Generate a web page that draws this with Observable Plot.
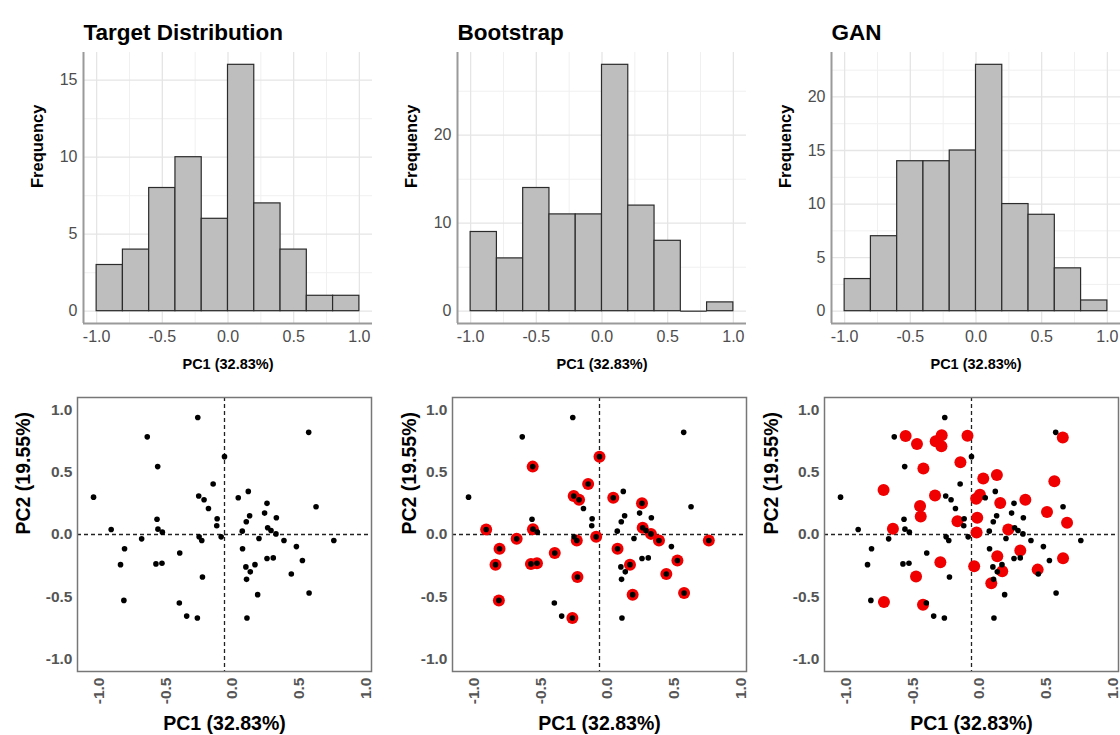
<!DOCTYPE html>
<html>
<head>
<meta charset="utf-8">
<script src="https://cdn.jsdelivr.net/npm/d3@7"></script>
<script src="https://cdn.jsdelivr.net/npm/@observablehq/plot@0.6"></script>
<style>
  body { margin: 0; background: #fff; }
  #wrap { position: relative; width: 1120px; height: 735px; overflow: hidden; background: #fff; }
  #wrap > svg { position: absolute; }
</style>
</head>
<body>
<div id="wrap"></div>
<script>
// ---------- data ----------
const panelTitles = ["Target Distribution", "Bootstrap", "GAN"];
const binEdges = [-1.0, -0.8, -0.6, -0.4, -0.2, 0.0, 0.2, 0.4, 0.6, 0.8, 1.0];
const targetCounts    = [3, 4, 8, 10, 6, 16, 7, 4, 1, 1];
const bootstrapCounts = [9, 6, 14, 11, 11, 28, 12, 8, 0, 1];
const ganCounts       = [3, 7, 14, 14, 15, 23, 10, 9, 4, 1];

const histXTicks = [-1, -0.5, 0, 0.5, 1];
const histXMinorTicks = [-0.75, -0.25, 0.25, 0.75];
const targetYTicks = [0, 5, 10, 15];
const targetYMinor = [2.5, 7.5, 12.5];
const bootstrapYTicks = [0, 10, 20];
const bootstrapYMinor = [5, 15, 25];
const ganYTicks = [0, 5, 10, 15, 20];
const ganYMinor = [2.5, 7.5, 12.5, 17.5, 22.5];

const scatterTicks = [-1, -0.5, 0, 0.5, 1];
const xLabel = "PC1 (32.83%)";
const yLabelScatter = "PC2 (19.55%)";
const yLabelHist = "Frequency";

// target (black) points
const targetPC1 = [-0.20, -0.578, 0.0, -0.50, -0.085, -0.98, -0.193, -0.153, -0.12, -0.055,
  -0.505, -0.058, -0.848, -0.498, -0.465, -0.62, -0.19, -0.17, -0.025, -0.748,
  -0.335, -0.778, -0.513, -0.468, -0.165, -0.753, -0.338, -0.283, -0.203,
  0.63, 0.178, 0.103, 0.318, 0.685, 0.30, 0.188, 0.388, 0.163, 0.323,
  0.133, 0.348, 0.385, 0.258, 0.445, 0.818, 0.135, 0.538, 0.318, 0.365,
  0.583, 0.16, 0.228, 0.193, 0.165, 0.50, 0.248, 0.633, 0.168];
const targetPC2 = [0.94, 0.784, 0.625, 0.545, 0.405, 0.30, 0.309, 0.279, 0.209, 0.126,
  0.123, 0.07, 0.04, 0.043, 0.019, -0.035, -0.019, -0.048, -0.019, -0.115,
  -0.148, -0.242, -0.236, -0.231, -0.341, -0.529, -0.55, -0.655, -0.671,
  0.82, 0.346, 0.295, 0.25, 0.223, 0.172, 0.15, 0.134, 0.102, 0.054,
  0.027, 0.032, 0.005, -0.032, -0.048, -0.048, -0.115, -0.097, -0.193, -0.188,
  -0.209, -0.26, -0.242, -0.30, -0.36, -0.317, -0.483, -0.47, -0.671];

// bootstrap (red) points
const bootPC1 = [-0.848, -0.748, -0.778, -0.753, -0.62, -0.50, -0.498, -0.513, -0.468, -0.335,
  -0.203, -0.193, -0.153, -0.085, -0.17, -0.165, -0.025, 0.0, 0.103, 0.135,
  0.228, 0.318, 0.323, 0.385, 0.445, 0.50, 0.583, 0.633, 0.248, 0.818];
const bootPC2 = [0.04, -0.115, -0.242, -0.529, -0.035, 0.545, 0.043, -0.236, -0.231, -0.148,
  -0.671, 0.309, 0.279, 0.405, -0.048, -0.341, -0.019, 0.625, 0.295, -0.115,
  -0.242, 0.25, 0.054, 0.005, -0.048, -0.317, -0.209, -0.47, -0.483, -0.048];

// GAN (red) points
const ganPC1 = [-0.493, -0.408, -0.268, -0.223, -0.225, -0.03, 0.683, -0.36, -0.083, -0.658,
  -0.273, -0.385, -0.38, -0.588, -0.105, 0.088, 0.19, 0.063, 0.035, 0.043,
  0.038, 0.215, 0.403, 0.62, 0.565, 0.715, 0.275, 0.193, 0.365, 0.685,
  -0.233, 0.02, 0.23, 0.495, -0.415, 0.148, -0.655, -0.363];
const ganPC2 = [0.79, 0.727, 0.749, 0.797, 0.709, 0.792, 0.778, 0.53, 0.58, 0.357,
  0.314, 0.228, 0.145, 0.046, 0.107, 0.45, 0.478, 0.32, 0.287, 0.134,
  0.016, 0.252, 0.279, 0.427, 0.18, 0.094, 0.04, -0.175, -0.129, -0.19,
  -0.223, -0.255, -0.295, -0.282, -0.338, -0.392, -0.542, -0.564];

// ---------- drawing ----------
const FONT = "'Liberation Sans', Arial, Helvetica, sans-serif";
const fmt1 = d => d.toFixed(1);
const wrap = document.getElementById("wrap");

function place(svg, left, top) {
  svg.style.left = left + "px";
  svg.style.top = top + "px";
  wrap.appendChild(svg);
}

function histogram(counts, yTicks, yMinor, title, frameLeft) {
  const bars = counts.map((n, i) => ({x1: binEdges[i], x2: binEdges[i + 1], n}));
  const yMax = d3.max(counts), pad = yMax * 0.05;
  const mL = 83, mT = 52, mR = 14, mB = 50, fw = 289, fh = 271;
  const svg = Plot.plot({
    width: mL + fw + mR, height: mT + fh + mB,
    marginLeft: mL, marginTop: mT, marginRight: mR, marginBottom: mB,
    style: {fontFamily: FONT, background: "transparent", overflow: "visible"},
    x: {domain: [-1.1, 1.1], label: null},
    y: {domain: [-pad, yMax + pad], label: null},
    marks: [
      Plot.gridX(histXMinorTicks, {stroke: "#f0f0f0", strokeOpacity: 1, strokeWidth: 1}),
      Plot.gridY(yMinor, {stroke: "#f0f0f0", strokeOpacity: 1, strokeWidth: 1}),
      Plot.gridX(histXTicks, {stroke: "#e5e5e5", strokeOpacity: 1, strokeWidth: 1.3}),
      Plot.gridY(yTicks, {stroke: "#e5e5e5", strokeOpacity: 1, strokeWidth: 1.3}),
      Plot.rectY(bars, {x1: "x1", x2: "x2", y1: 0, y2: "n", fill: "#bebebe", stroke: "#2b2b2b", strokeWidth: 1.2}),
      Plot.ruleY(bars.filter(d => d.n === 0), {x1: "x1", x2: "x2", y: 0, stroke: "#2b2b2b", strokeWidth: 1.2}),
      Plot.ruleX([-1.1], {stroke: "#9a9a9a", strokeWidth: 2}),
      Plot.ruleY([-pad], {stroke: "#9a9a9a", strokeWidth: 2}),
      Plot.axisX(histXTicks, {tickSize: 0, tickPadding: 7, tickFormat: fmt1, fontSize: 16, fill: "#4d4d4d", label: null}),
      Plot.axisY(yTicks, {tickSize: 0, tickPadding: 6, fontSize: 16, fill: "#4d4d4d", label: null}),
      Plot.text([xLabel], {text: d => d, frameAnchor: "bottom", dy: 41, fontSize: 14.5, fontWeight: "bold", fill: "#000", lineAnchor: "middle"}),
      Plot.text([yLabelHist], {text: d => d, frameAnchor: "left", dx: -46, rotate: -90, fontSize: 16.5, fontWeight: "bold", fill: "#000", lineAnchor: "middle"}),
      Plot.text([title], {text: d => d, frameAnchor: "top-left", dy: -12.5, textAnchor: "start", lineAnchor: "bottom", fontSize: 22.5, fontWeight: "bold", fill: "#000"})
    ]
  });
  place(svg, frameLeft - mL, 0);
}

function scatter(redX, redY, frameLeft, yLabelDx) {
  const black = targetPC1.map((x, i) => ({x, y: targetPC2[i]}));
  const red = redX ? redX.map((x, i) => ({x, y: redY[i]})) : [];
  const mL = 77, mT = 17, mR = 6, mB = 64, fw = 294, fh = 274;
  const svg = Plot.plot({
    width: mL + fw + mR, height: mT + fh + mB,
    marginLeft: mL, marginTop: mT, marginRight: mR, marginBottom: mB,
    style: {fontFamily: FONT, background: "transparent", overflow: "visible"},
    x: {domain: [-1.1, 1.1], label: null},
    y: {domain: [-1.1, 1.1], label: null},
    marks: [
      Plot.ruleX([0], {stroke: "#222", strokeWidth: 1.3, strokeDasharray: "4,3"}),
      Plot.ruleY([0], {stroke: "#222", strokeWidth: 1.3, strokeDasharray: "4,3"}),
      Plot.dot(red, {x: "x", y: "y", r: 6, fill: "#f00000", stroke: "none"}),
      Plot.dot(black, {x: "x", y: "y", r: 2.8, fill: "#000", stroke: "none"}),
      Plot.frame({stroke: "#777", strokeWidth: 1.5}),
      Plot.axisY(scatterTicks, {tickSize: 0, tickPadding: 5, tickFormat: fmt1, fontSize: 15.5, fontWeight: "bold", fill: "#555", label: null}),
      Plot.axisX(scatterTicks, {tickSize: 0, tickPadding: 6, tickRotate: -90, dx: 8, tickFormat: fmt1, fontSize: 15.5, fontWeight: "bold", fill: "#555", label: null}),
      Plot.text([xLabel], {text: d => d, frameAnchor: "bottom", dy: 52, fontSize: 19.5, fontWeight: "bold", fill: "#000", lineAnchor: "middle"}),
      Plot.text([yLabelScatter], {text: d => d, frameAnchor: "left", dx: yLabelDx, rotate: -90, fontSize: 19.5, fontWeight: "bold", fill: "#000", lineAnchor: "middle"})
    ]
  });
  place(svg, frameLeft - mL, 380);
}

histogram(targetCounts, targetYTicks, targetYMinor, panelTitles[0], 83);
histogram(bootstrapCounts, bootstrapYTicks, bootstrapYMinor, panelTitles[1], 457);
histogram(ganCounts, ganYTicks, ganYMinor, panelTitles[2], 831);

scatter(null, null, 77, -53.5);
scatter(bootPC1, bootPC2, 452, -43);
scatter(ganPC1, ganPC2, 824, -53);
</script>
</body>
</html>
